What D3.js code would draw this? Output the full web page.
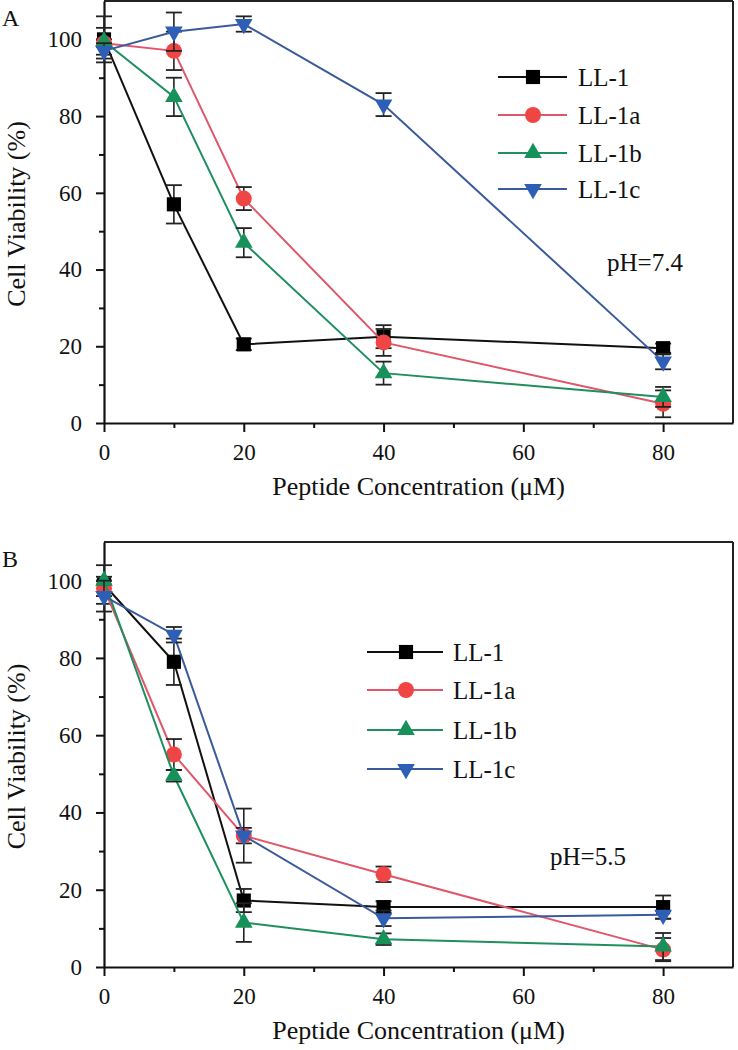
<!DOCTYPE html>
<html>
<head>
<meta charset="utf-8">
<script src="https://cdn.jsdelivr.net/npm/d3@7/dist/d3.min.js"></script>
<style>
  body { margin: 0; background: #fff; }
  svg { display: block; }
  text { font-family: "Liberation Serif", "Times New Roman", serif; fill: #111; }
</style>
</head>
<body>
<svg id="chart" width="738" height="1050"></svg>
<script>
// ---------- DATA ----------
const concentrations = [0, 10, 20, 40, 80];
const seriesNames = ["LL-1", "LL-1a", "LL-1b", "LL-1c"];
const xTicks = [0, 20, 40, 60, 80];
const xMinorTicks = [10, 30, 50, 70];
const yTicks = [0, 20, 40, 60, 80, 100];
const yMinorTicks = [10, 30, 50, 70, 90];
const panelLabels = ["A", "B"];
const phLabels = ["pH=7.4", "pH=5.5"];
const xTitle = "Peptide Concentration (\u03BCM)";
const yTitle = "Cell Viability (%)";

// Panel A (pH 7.4)
const valA_LL1  = [100, 57, 20.5, 22.5, 19.5];
const errA_LL1  = [6, 5, 1.5, 3, 1.2];
const valA_LL1a = [99, 97, 58.5, 21, 5];
const errA_LL1a = [1, 5, 3, 3.5, 3.5];
const valA_LL1b = [99.5, 85, 47, 13, 6.8];
const errA_LL1b = [3.5, 5, 3.8, 3, 2.6];
const valA_LL1c = [97, 102, 104, 83, 16];
const errA_LL1c = [2, 5, 2, 3, 2];

// Panel B (pH 5.5)
const valB_LL1  = [99, 79, 17.2, 15.5, 15.5];
const errB_LL1  = [5, 6, 3, 1.5, 3];
const valB_LL1a = [98, 55, 34, 24, 4.5];
const errB_LL1a = [2, 4, 2, 2, 3];
const valB_LL1b = [100, 49.5, 11.5, 7.2, 5.3];
const errB_LL1b = [1, 1.5, 5, 1.5, 3.5];
const valB_LL1c = [96, 86, 34, 12.6, 13.5];
const errB_LL1c = [4, 2, 7, 2, 1];

// ---------- STYLE ----------
const lineColors   = ["#111111", "#e0566a", "#1f8f5f", "#3a5a9c"];
const markerColors = ["#000000", "#f04545", "#17915a", "#2c5fb5"];
const markerTypes  = [d3.symbolSquare, d3.symbolCircle, d3.symbolTriangle, d3.symbolTriangle];
const markerSizes  = [200, 200, 135, 135];
const markerRot    = [0, 0, 0, 180];

const panels = [
  { top: 1, bottom: 423,
    vals: [valA_LL1, valA_LL1a, valA_LL1b, valA_LL1c],
    errs: [errA_LL1, errA_LL1a, errA_LL1b, errA_LL1c],
    legend: { x0: 498, x1: 567, mx: 533, tx: 578, rows: [77, 115, 153, 189] },
    ph: { x: 607, y: 271 }, label: { x: 2, y: 26 } },
  { top: 542, bottom: 967,
    vals: [valB_LL1, valB_LL1a, valB_LL1b, valB_LL1c],
    errs: [errB_LL1, errB_LL1a, errB_LL1b, errB_LL1c],
    legend: { x0: 367, x1: 443, mx: 406, tx: 453, rows: [652, 690, 730, 769] },
    ph: { x: 550, y: 865 }, label: { x: 2, y: 567 } }
];

const svg = d3.select("#chart");
const x = d3.scaleLinear().domain([0, 90]).range([104, 733]);

panels.forEach((p, pi) => {
  const y = d3.scaleLinear().domain([0, 110]).range([p.bottom, p.top]);
  const g = svg.append("g");

  // frame top & right
  g.append("line").attr("x1", x(0)).attr("x2", x(90)).attr("y1", p.top).attr("y2", p.top)
    .attr("stroke", "#222").attr("stroke-width", 2);
  g.append("line").attr("x1", x(90)).attr("x2", x(90)).attr("y1", p.top).attr("y2", p.bottom)
    .attr("stroke", "#222").attr("stroke-width", 2);

  // minor ticks
  g.append("g").attr("transform", `translate(0,${p.bottom})`)
    .call(d3.axisBottom(x).tickValues(xMinorTicks).tickSize(5).tickSizeOuter(0).tickFormat(""))
    .call(a => a.select(".domain").remove())
    .call(a => a.selectAll("line").attr("stroke", "#111").attr("stroke-width", 2));
  g.append("g").attr("transform", `translate(${x(0)},0)`)
    .call(d3.axisLeft(y).tickValues(yMinorTicks).tickSize(5).tickSizeOuter(0).tickFormat(""))
    .call(a => a.select(".domain").remove())
    .call(a => a.selectAll("line").attr("stroke", "#111").attr("stroke-width", 2));

  // major axes
  const xa = g.append("g").attr("transform", `translate(0,${p.bottom})`)
    .call(d3.axisBottom(x).tickValues(xTicks).tickSize(9).tickSizeOuter(0).tickPadding(12).tickFormat(d3.format("d")));
  const ya = g.append("g").attr("transform", `translate(${x(0)},0)`)
    .call(d3.axisLeft(y).tickValues(yTicks).tickSize(8).tickSizeOuter(0).tickPadding(14).tickFormat(d3.format("d")));
  [xa, ya].forEach(a => {
    a.select(".domain").attr("stroke", "#111").attr("stroke-width", 2.2);
    a.selectAll(".tick line").attr("stroke", "#111").attr("stroke-width", 2);
    a.selectAll(".tick text").attr("font-size", 23).attr("fill", "#111")
      .style("font-family", '"Liberation Serif", "Times New Roman", serif');
  });

  // axis titles
  g.append("text").attr("x", (x(0) + x(90)) / 2).attr("y", p.bottom + 72)
    .attr("text-anchor", "middle").attr("font-size", 26).text(xTitle);
  g.append("text").attr("transform", `translate(25,${(p.top + p.bottom) / 2 + 2}) rotate(-90)`)
    .attr("text-anchor", "middle").attr("font-size", 26).text(yTitle);

  // panel label
  g.append("text").attr("x", p.label.x).attr("y", p.label.y).attr("font-size", 24).text(panelLabels[pi]);
  // pH label
  g.append("text").attr("x", p.ph.x).attr("y", p.ph.y).attr("font-size", 25).text(phLabels[pi]);

  // series
  const line = d3.line().x((d, i) => x(concentrations[i])).y(d => y(d));
  seriesNames.forEach((name, si) => {
    const vals = p.vals[si], errs = p.errs[si];
    const sg = g.append("g");
    sg.append("path").datum(vals).attr("d", line).attr("fill", "none")
      .attr("stroke", lineColors[si]).attr("stroke-width", 2);
    const eb = sg.selectAll(".eb").data(vals).enter().append("g");
    eb.append("line")
      .attr("x1", (d, i) => x(concentrations[i])).attr("x2", (d, i) => x(concentrations[i]))
      .attr("y1", (d, i) => y(d + errs[i])).attr("y2", (d, i) => y(d - errs[i]))
      .attr("stroke", "#222").attr("stroke-width", 1.6);
    [1, -1].forEach(sgn => {
      eb.append("line")
        .attr("x1", (d, i) => x(concentrations[i]) - 8).attr("x2", (d, i) => x(concentrations[i]) + 8)
        .attr("y1", (d, i) => y(d + sgn * errs[i])).attr("y2", (d, i) => y(d + sgn * errs[i]))
        .attr("stroke", "#222").attr("stroke-width", 1.8);
    });
    sg.selectAll(".mk").data(vals).enter().append("path")
      .attr("d", d3.symbol().type(markerTypes[si]).size(markerSizes[si]))
      .attr("transform", (d, i) => `translate(${x(concentrations[i])},${y(d)}) rotate(${markerRot[si]})`)
      .attr("fill", markerColors[si]);
  });

  // legend
  const L = p.legend;
  seriesNames.forEach((name, si) => {
    const ry = L.rows[si];
    g.append("line").attr("x1", L.x0).attr("x2", L.x1).attr("y1", ry).attr("y2", ry)
      .attr("stroke", lineColors[si]).attr("stroke-width", 2);
    g.append("path").attr("d", d3.symbol().type(markerTypes[si]).size(markerSizes[si]))
      .attr("transform", `translate(${L.mx},${ry}) rotate(${markerRot[si]})`)
      .attr("fill", markerColors[si]);
    g.append("text").attr("x", L.tx).attr("y", ry + 9).attr("font-size", 25).text(name);
  });
});
</script>
</body>
</html>
